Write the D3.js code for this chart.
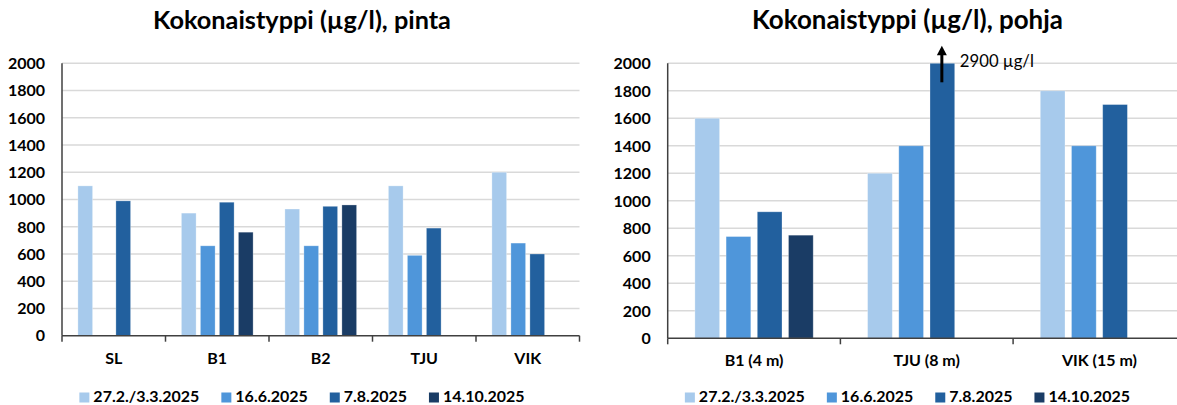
<!DOCTYPE html>
<html><head><meta charset="utf-8">
<script src="https://cdn.jsdelivr.net/npm/d3@7"></script>
<style>body{margin:0;background:#fff} svg{display:block;font-family:Lato,"Open Sans",sans-serif}</style>
</head><body>
<svg id="c" width="1177" height="405"></svg>
<script>
// ---- data ----
const series = ["27.2./3.3.2025", "16.6.2025", "7.8.2025", "14.10.2025"];
const seriesColors = ["#A7CAEC", "#4F96DA", "#22609E", "#1A3C65"];
const yTickValues = [0, 200, 400, 600, 800, 1000, 1200, 1400, 1600, 1800, 2000];

const pintaTitle = "Kokonaistyppi (µg/l), pinta";
const pintaCategories = ["SL", "B1", "B2", "TJU", "VIK"];
const pintaFeb = [1100, 900, 930, 1100, 1200];
const pintaJun = [null, 660, 660, 590, 680];
const pintaAug = [990, 980, 950, 790, 600];
const pintaOct = [null, 760, 960, null, null];

const pohjaTitle = "Kokonaistyppi (µg/l), pohja";
const pohjaCategories = ["B1 (4 m)", "TJU (8 m)", "VIK (15 m)"];
const pohjaFeb = [1600, 1200, 1800];
const pohjaJun = [740, 1400, 1400];
const pohjaAug = [920, 2900, 1700];
const pohjaOct = [750, null, null];
const annotationUnit = "µg/l";

// ---- drawing ----
const svg = d3.select("#c");
const axisColor = "#404040", gridColor = "#D9D9D9", textColor = "#000";

function fitWidth(sel, target) {
  const w = sel.node().getComputedTextLength();
  const fs = parseFloat(sel.attr("font-size"));
  sel.attr("font-size", fs * target / w);
  return fs * target / w;
}

function panel(cfg) {
  const cats = cfg.categories;
  const rows = cats.map((c, i) => ({cat: c, vals: cfg.values.map(v => v[i])}));
  const x = d3.scaleBand().domain(cats).range([cfg.x0, cfg.x1]);
  const xs = d3.scaleBand().domain(series)
    .range([-cfg.half, cfg.half]).paddingInner(cfg.pad).paddingOuter(cfg.pad / 2);
  const y = d3.scaleLinear().domain([0, 2000]).range([cfg.y0, cfg.yTop]).clamp(true);
  const g = svg.append("g");

  // gridlines
  g.selectAll("line.grid").data(yTickValues.filter(d => d > 0)).join("line")
    .attr("x1", cfg.x0).attr("x2", cfg.x1)
    .attr("y1", d => y(d)).attr("y2", d => y(d))
    .attr("stroke", gridColor).attr("stroke-width", 1.5);

  // bars
  const grp = g.selectAll("g.cat").data(rows).join("g")
    .attr("transform", d => `translate(${x(d.cat) + x.bandwidth() / 2},0)`);
  grp.selectAll("rect").data(d => d.vals.map((v, k) => ({v, k})).filter(e => e.v != null))
    .join("rect")
    .attr("x", e => xs(series[e.k])).attr("width", xs.bandwidth())
    .attr("y", e => y(e.v)).attr("height", e => cfg.y0 - y(e.v))
    .attr("fill", e => seriesColors[e.k])
    .attr("stroke", "#fff").attr("stroke-opacity", 0.35).attr("stroke-width", 0.8);

  // y axis
  g.append("line").attr("x1", cfg.x0).attr("x2", cfg.x0).attr("y1", cfg.yTop).attr("y2", cfg.y0)
    .attr("stroke", axisColor).attr("stroke-width", 1.5);
  g.selectAll("text.yt").data(yTickValues).join("text")
    .attr("x", cfg.x0 - 17).attr("y", d => y(d)).attr("dy", "0.36em")
    .attr("text-anchor", "end").attr("font-weight", 700).attr("font-size", 16)
    .attr("fill", textColor).text(d => d);

  // x axis
  g.append("line").attr("x1", cfg.x0).attr("x2", cfg.x1).attr("y1", cfg.y0).attr("y2", cfg.y0)
    .attr("stroke", axisColor).attr("stroke-width", 1.5);
  const bounds = cats.map(c => x(c)).concat([cfg.x1]);
  g.selectAll("line.xt").data(bounds).join("line")
    .attr("x1", d => d).attr("x2", d => d).attr("y1", cfg.y0).attr("y2", cfg.y0 + 6)
    .attr("stroke", axisColor).attr("stroke-width", 1.5);
  g.selectAll("text.xl").data(cats).join("text")
    .attr("x", d => x(d) + x.bandwidth() / 2).attr("y", cfg.y0 + 28)
    .attr("text-anchor", "middle").attr("font-weight", 700).attr("font-size", 16)
    .attr("fill", textColor).text(d => d);

  // title
  const t = g.append("text").attr("x", cfg.cx).attr("y", 29).attr("text-anchor", "middle")
    .attr("font-weight", 700).attr("font-size", 21).attr("fill", textColor).text(cfg.title);
  fitWidth(t, cfg.titleWidth);

  // legend
  const lg = g.append("g");
  let cursor = 0, legendSize = 15;
  series.forEach((s, k) => {
    lg.append("rect").attr("x", cursor).attr("y", 392.5).attr("width", 10).attr("height", 10)
      .attr("fill", seriesColors[k]);
    const tt = lg.append("text").attr("x", cursor + 14).attr("y", 402)
      .attr("font-weight", 700).attr("font-size", legendSize).attr("fill", textColor).text(s);
    if (k === 0) legendSize = fitWidth(tt, 106);
    cursor += 14 + tt.node().getComputedTextLength() + 22;
  });
  const total = cursor - 22;
  lg.attr("transform", `translate(${cfg.cx - total / 2},0)`);
  return {x, xs, y, g};
}

panel({
  title: pintaTitle, categories: pintaCategories,
  values: [pintaFeb, pintaJun, pintaAug, pintaOct],
  x0: 62, x1: 579.5, y0: 335.7, yTop: 63.3, half: 38, pad: 0.226,
  cx: 302, titleWidth: 298
});

const right = panel({
  title: pohjaTitle, categories: pohjaCategories,
  values: [pohjaFeb, pohjaJun, pohjaAug, pohjaOct],
  x0: 667.7, x1: 1185.8, y0: 338.3, yTop: 63.3, half: 62.4, pad: 0.208,
  cx: 907.5, titleWidth: 311
});

// annotation for the clipped bar (value beyond axis max)
const allPohja = [pohjaFeb, pohjaJun, pohjaAug, pohjaOct];
allPohja.forEach((arr, k) => arr.forEach((v, i) => {
  if (v != null && v > 2000) {
    const cxBar = right.x(pohjaCategories[i]) + right.x.bandwidth() / 2
      + right.xs(series[k]) + right.xs.bandwidth() / 2 - 0.5;
    const top = right.y(2000);
    svg.append("line").attr("x1", cxBar).attr("x2", cxBar)
      .attr("y1", top + 19).attr("y2", top - 10)
      .attr("stroke", "#000").attr("stroke-width", 3);
    svg.append("path")
      .attr("d", `M${cxBar - 5},${top - 8} L${cxBar},${top - 17.5} L${cxBar + 5},${top - 8} Z`)
      .attr("fill", "#000");
    const at = svg.append("text").attr("x", cxBar + 18).attr("y", top + 4)
      .attr("font-size", 16).attr("fill", "#000").text(`${v} ${annotationUnit}`);
    fitWidth(at, 74);
  }
}));
</script>
</body></html>
